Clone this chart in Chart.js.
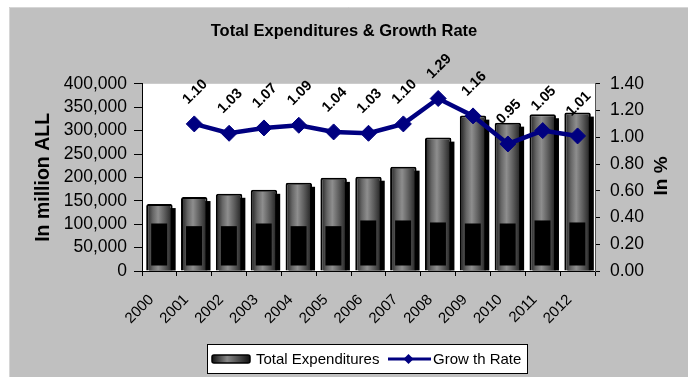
<!DOCTYPE html>
<html>
<head>
<meta charset="utf-8">
<script src="https://cdn.jsdelivr.net/npm/chart.js@4"></script>
<style>
  body { margin: 0; background: #fff; }
  canvas { display: block; }
</style>
</head>
<body>
<canvas id="chart" width="688" height="377"></canvas>
<script>
let anios = ['2000', '2001', '2002', '2003', '2004', '2005', '2006', '2007', '2008', '2009', '2010', '2011', '2012'];
// gasto total en millones de ALL
let gastos = [143000, 158000, 165000, 173500, 188500, 199000, 201500, 223000, 285000, 332000, 317000, 335000, 338500];
// tasa de crecimiento respecto al año anterior
let crecimiento = [null, 1.10, 1.03, 1.07, 1.09, 1.04, 1.03, 1.10, 1.29, 1.16, 0.95, 1.05, 1.01];
// altura del bloque oscuro dentro de cada cilindro
let nucleo = [101500, 95800, 95800, 101500, 95800, 95800, 108000, 108000, 103700, 101500, 101500, 108000, 103700];

const fuente = "'Liberation Sans', Arial, sans-serif";

function degradadoBarra(context) {
    let chart = context.chart;
    if (!chart.chartArea || context.dataIndex === undefined) return '#6e6e6e';
    let x = chart.scales.x;
    let centro = x.getPixelForValue(context.dataIndex);
    let ancho = x.width / anios.length * 0.76;
    let g = chart.ctx.createLinearGradient(centro - ancho / 2, 0, centro + ancho / 2, 0);
    g.addColorStop(0, '#1c1c1c');
    g.addColorStop(0.25, '#666');
    g.addColorStop(0.45, '#8e8e8e');
    g.addColorStop(0.7, '#5c5c5c');
    g.addColorStop(1, '#1c1c1c');
    return g;
}

// marco gris y fondo blanco del area de trazado
const fondo = {
    id: 'fondo',
    beforeDraw(chart) {
        let ctx = chart.ctx;
        let a = chart.chartArea;
        ctx.save();
        ctx.fillStyle = '#c0c0c0';
        ctx.fillRect(9, 7, chart.width - 9, chart.height - 7);
        ctx.strokeStyle = '#d6d6d6';
        ctx.lineWidth = 1;
        ctx.beginPath();
        ctx.moveTo(9.5, chart.height);
        ctx.lineTo(9.5, 7.5);
        ctx.lineTo(chart.width, 7.5);
        ctx.stroke();
        ctx.fillStyle = '#fff';
        ctx.fillRect(a.left, a.top, a.right - a.left, a.bottom - a.top);
        ctx.restore();
    }
};

// sombra y nucleo oscuro de los cilindros
const cilindros = {
    id: 'cilindros',
    beforeDatasetDraw(chart, args) {
        if (args.index !== 0) return;
        let ctx = chart.ctx;
        ctx.save();
        ctx.fillStyle = '#000';
        args.meta.data.forEach(function (barra) {
            let izq = barra.x - barra.width / 2;
            ctx.fillRect(izq + 3, barra.y + 4, barra.width, barra.base - barra.y - 4);
        });
        ctx.restore();
    },
    afterDatasetDraw(chart, args) {
        if (args.index !== 0) return;
        let ctx = chart.ctx;
        let y = chart.scales.y;
        ctx.save();
        ctx.fillStyle = '#000';
        args.meta.data.forEach(function (barra, i) {
            let izq = barra.x - barra.width / 2 + 5;
            let der = barra.x + barra.width / 2 - 5.5;
            let arriba = y.getPixelForValue(nucleo[i]);
            ctx.fillRect(izq, arriba, der - izq, barra.base - 5 - arriba);
        });
        ctx.restore();
    }
};

// valores de la tasa encima de cada punto, girados
const etiquetas = {
    id: 'etiquetas',
    afterDatasetsDraw(chart) {
        let ctx = chart.ctx;
        let meta = chart.getDatasetMeta(1);
        ctx.save();
        ctx.font = 'bold 14.5px ' + fuente;
        ctx.fillStyle = '#000';
        ctx.textAlign = 'center';
        ctx.textBaseline = 'middle';
        meta.data.forEach(function (punto, i) {
            if (crecimiento[i] == null) return;
            ctx.save();
            ctx.translate(punto.x + 1, punto.y - 32);
            ctx.rotate(-Math.PI / 4);
            ctx.fillText(crecimiento[i].toFixed(2), 0, 0);
            ctx.restore();
        });
        ctx.restore();
    }
};

// leyenda con recuadro y titulo del eje derecho
const leyenda = {
    id: 'leyenda',
    afterDraw(chart) {
        let ctx = chart.ctx;
        let sets = chart.data.datasets;
        ctx.save();
        ctx.fillStyle = '#fff';
        ctx.fillRect(207.5, 344.5, 320, 29);
        ctx.strokeStyle = '#000';
        ctx.lineWidth = 1;
        ctx.strokeRect(207.5, 344.5, 320, 29);

        let g = ctx.createLinearGradient(212, 0, 250, 0);
        g.addColorStop(0, '#111');
        g.addColorStop(0.4, '#888');
        g.addColorStop(1, '#111');
        ctx.fillStyle = g;
        ctx.beginPath();
        ctx.roundRect(212, 355, 38, 8, 2);
        ctx.fill();
        ctx.lineWidth = 1.5;
        ctx.stroke();

        ctx.font = '15px ' + fuente;
        ctx.fillStyle = '#000';
        ctx.textBaseline = 'middle';
        ctx.fillText(sets[0].label, 256, 359.5);

        ctx.strokeStyle = '#000080';
        ctx.lineWidth = 3;
        ctx.beginPath();
        ctx.moveTo(388, 359);
        ctx.lineTo(431, 359);
        ctx.stroke();
        ctx.fillStyle = '#000080';
        ctx.beginPath();
        ctx.moveTo(408.5, 354);
        ctx.lineTo(413.5, 359);
        ctx.lineTo(408.5, 364);
        ctx.lineTo(403.5, 359);
        ctx.closePath();
        ctx.fill();

        ctx.fillStyle = '#000';
        ctx.fillText(sets[1].label, 433, 359.5);

        ctx.translate(662, 176);
        ctx.rotate(-Math.PI / 2);
        ctx.font = 'bold 19px ' + fuente;
        ctx.textAlign = 'center';
        ctx.fillText('In %', 0, 0);
        ctx.restore();
    }
};

let datosG = {
    labels: anios,
    datasets: [
        {
            type: 'bar',
            label: 'Total Expenditures',
            data: gastos,
            yAxisID: 'y',
            backgroundColor: degradadoBarra,
            borderColor: '#000',
            borderWidth: 2,
            borderRadius: { topLeft: 2, topRight: 2 },
            borderSkipped: 'bottom',
            barPercentage: 0.76,
            categoryPercentage: 1,
            order: 2
        },
        {
            type: 'line',
            label: 'Grow th Rate',
            data: crecimiento,
            yAxisID: 'y1',
            borderColor: '#000080',
            borderWidth: 4.5,
            pointStyle: 'rectRot',
            pointRadius: 8,
            pointBackgroundColor: '#000080',
            pointBorderColor: '#000080',
            pointBorderWidth: 1,
            tension: 0,
            order: 1
        }
    ]
};

let opciones = {
    responsive: false,
    animation: false,
    layout: { padding: 0 },
    scales: {
        x: {
            grid: { drawOnChartArea: false, offset: true, tickLength: 5, color: '#000' },
            border: { color: '#000' },
            ticks: {
                font: { family: fuente, size: 15 },
                color: '#000',
                maxRotation: 45,
                minRotation: 45,
                autoSkip: false,
                padding: 15,
                labelOffset: -8
            },
            afterFit: function (scale) { scale.height = 106; }
        },
        y: {
            position: 'left',
            min: 0,
            max: 400000,
            ticks: {
                stepSize: 50000,
                autoSkip: false,
                font: { family: fuente, size: 17.5 },
                color: '#000',
                padding: 7
            },
            grid: { drawOnChartArea: false, tickLength: 8, color: '#000' },
            border: { color: '#000' },
            title: {
                display: true,
                text: 'In million ALL',
                font: { family: fuente, size: 19.5, weight: 'bold' },
                color: '#000',
                padding: { top: 32, bottom: 0 }
            },
            afterFit: function (scale) { scale.width = 142; }
        },
        y1: {
            position: 'right',
            min: 0,
            max: 1.4,
            ticks: {
                stepSize: 0.2,
                autoSkip: false,
                font: { family: fuente, size: 17.5 },
                color: '#000',
                padding: 10,
                callback: function (v) { return v.toFixed(2); }
            },
            grid: { drawOnChartArea: false, tickLength: 5, color: '#000' },
            border: { color: '#555' },
            afterFit: function (scale) { scale.width = 93; }
        }
    },
    plugins: {
        legend: { display: false },
        tooltip: { enabled: false },
        title: {
            display: true,
            text: 'Total Expenditures & Growth Rate',
            font: { family: fuente, size: 16.5, weight: 'bold' },
            color: '#000',
            padding: { top: 22, bottom: 42 }
        }
    }
};

let ctx = document.getElementById('chart');
let miGrafica = new Chart(ctx, {
    data: datosG,
    options: opciones,
    plugins: [fondo, cilindros, etiquetas, leyenda]
});
</script>
</body>
</html>
